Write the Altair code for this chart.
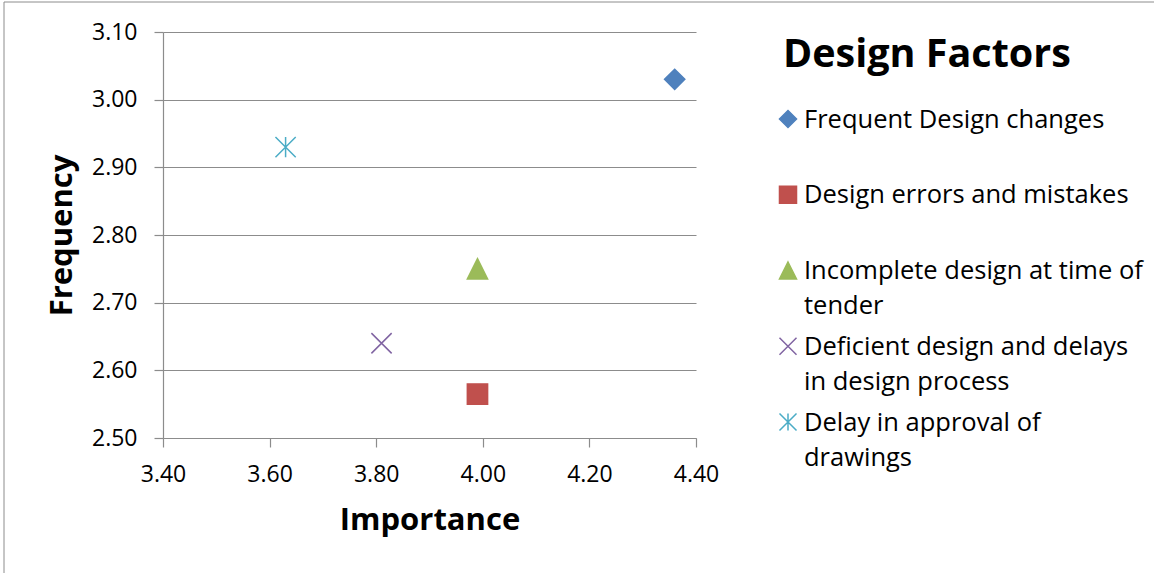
import altair as alt
import pandas as pd

# Design factors: mean importance vs. mean frequency
factors = [
    "Frequent Design changes",
    "Design errors and mistakes",
    "Incomplete design at time of tender",
    "Deficient design and delays in design process",
    "Delay in approval of drawings",
]
importance = [4.36, 3.99, 3.99, 3.81, 3.63]
frequency = [3.03, 2.565, 2.75, 2.64, 2.93]

# legend text, wrapped the way it is printed
legend_labels = [
    "Frequent Design changes",
    "Design errors and mistakes",
    "Incomplete design at time of\ntender",
    "Deficient design and delays\nin design process",
    "Delay in approval of\ndrawings",
]
legend_title = ["Design Factors"]

x_ticks = [3.4, 3.6, 3.8, 4.0, 4.2, 4.4]
y_ticks = [2.5, 2.6, 2.7, 2.8, 2.9, 3.0, 3.1]

colors = ["#4F81BD", "#C0504D", "#9BBB59", "#8064A2", "#4BACC6"]
shapes = [
    "M0,-1L1,0L0,1L-1,0Z",                      # diamond
    "M-1,-1L1,-1L1,1L-1,1Z",                    # square
    "M0,-1L1,1L-1,1Z",                          # triangle
    "M-1,-1L1,1M-1,1L1,-1",                     # x
    "M-1,-1L1,1M-1,1L1,-1M0,-1L0,1",            # asterisk
]

FONT = "Open Sans"
GRAY = "#8c8c8c"

points = pd.DataFrame({"factor": factors, "importance": importance, "frequency": frequency})
legend_df = pd.DataFrame({"factor": factors, "label": legend_labels})
title_df = pd.DataFrame({"title": legend_title})

shape_enc = alt.Shape("factor:N", scale=alt.Scale(domain=factors, range=shapes), legend=None)
color_enc = alt.Color("factor:N", scale=alt.Scale(domain=factors, range=colors), legend=None)
stroke_enc = alt.Stroke("factor:N", scale=alt.Scale(domain=factors, range=colors), legend=None)

scatter = alt.Chart(points).mark_point(filled=True, size=410, strokeWidth=1.5, opacity=1).encode(
    x=alt.X(
        "importance:Q",
        scale=alt.Scale(domain=[3.4, 4.4], nice=False, zero=False),
        axis=alt.Axis(
            values=x_ticks, format=".2f", grid=False, labelFlush=False,
            title="Importance", titleY=82, titleBaseline="middle",
            titleFontSize=31, labelPadding=16,
        ),
    ),
    y=alt.Y(
        "frequency:Q",
        scale=alt.Scale(domain=[2.5, 3.1], nice=False, zero=False),
        axis=alt.Axis(
            values=y_ticks, format=".2f", grid=True, labelFlush=False,
            title="Frequency", titleX=-101, titleBaseline="middle",
            titleFontSize=31, labelPadding=17,
        ),
    ),
    shape=shape_enc,
    color=color_enc,
    stroke=stroke_enc,
)

legend_y = alt.Y(
    "factor:N",
    scale=alt.Scale(type="point", domain=factors, range=[87, 390], padding=0),
    axis=None,
)

legend_symbols = alt.Chart(legend_df).mark_point(filled=True, size=290, strokeWidth=1.5, opacity=1).encode(
    x=alt.value(625),
    y=legend_y,
    shape=shape_enc,
    color=color_enc,
    stroke=stroke_enc,
)

legend_text = alt.Chart(legend_df).mark_text(
    align="left", baseline="alphabetic", dy=8.5, font=FONT, fontSize=25.5,
    lineBreak="\n", lineHeight=35, color="black",
).encode(
    x=alt.value(641),
    y=legend_y,
    text="label:N",
)

legend_heading = alt.Chart(title_df).mark_text(
    align="left", baseline="alphabetic", font=FONT, fontSize=39.5,
    fontWeight="bold", color="black",
).encode(
    x=alt.value(620),
    y=alt.value(35),
    text="title:N",
)

frame = alt.Chart(pd.DataFrame({"a": [0]})).mark_rect(
    fillOpacity=0, stroke=GRAY, strokeWidth=1
).encode(
    x=alt.value(-159), x2=alt.value(1100),
    y=alt.value(-30), y2=alt.value(600),
)

chart = (
    alt.layer(frame, scatter, legend_symbols, legend_text, legend_heading)
    .resolve_scale(y="independent")
    .properties(
        width=533,
        height=406,
        autosize=alt.AutoSizeParams(type="none"),
        padding={"left": 163, "top": 32, "right": 458, "bottom": 135},
        background="white",
    )
    .configure_view(stroke=None)
    .configure_axis(
        labelFont=FONT, labelFontSize=23, labelColor="black",
        titleFont=FONT, titleFontWeight="bold", titleColor="black",
        domainColor=GRAY, tickColor=GRAY, gridColor=GRAY,
        domainWidth=1.2, tickWidth=1.2, gridWidth=1.2,
        tickSize=9, labelPadding=13,
    )
)

chart.save("out.html", embed_options={"renderer": "svg", "actions": False})
